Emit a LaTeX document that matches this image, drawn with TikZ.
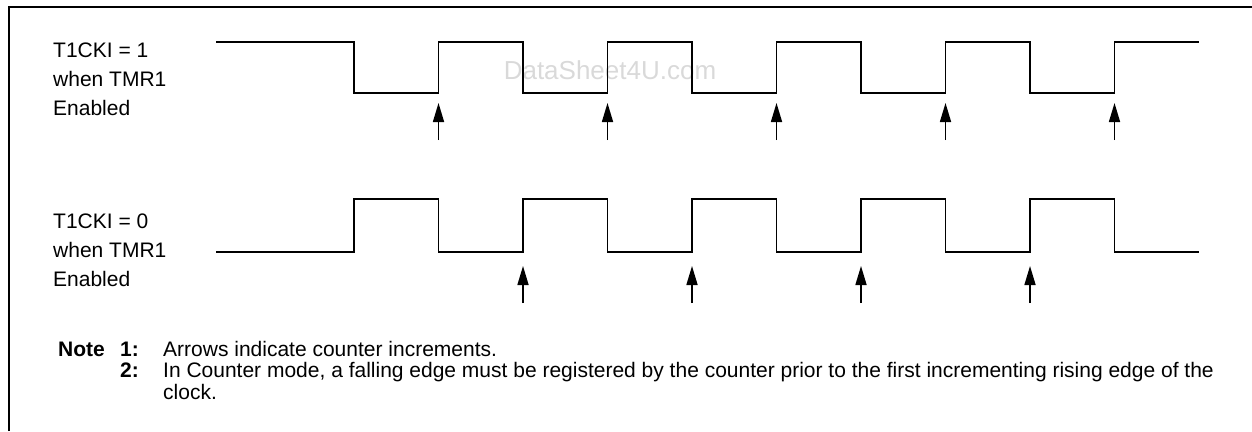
\documentclass[tikz,border=0pt]{standalone}
\usepackage{fontspec}
\setmainfont{Liberation Sans}
\usetikzlibrary{arrows.meta}

\begin{document}
\begin{tikzpicture}[x=1pt, y=-1pt,
    wave/.style={line width=1.6pt, line join=miter},
    cnt/.style={line width=1.6pt, -{Triangle[length=19pt, width=11pt]}},
    lbl/.style={anchor=west, align=left, inner sep=0pt, font=\fontsize{21}{28.8}\selectfont},
    nt/.style={anchor=base west, inner sep=0pt, font=\fontsize{21}{21.5}\selectfont},
    ntb/.style={nt, font=\fontsize{21}{21.5}\selectfont\bfseries}]
  \useasboundingbox (0,0) rectangle (1252,431);
  % frame
  \draw[line width=1.6pt] (9,431) -- (9,7) -- (1252,7);
  % watermark
  \node[text=gray!30, font=\fontsize{26}{26}\selectfont] (wm) at (610,70) {DataSheet4U.com};
  % signal labels
  \node[lbl] (lone) at (53,79) {T1CKI = 1\\when TMR1\\Enabled};
  \node[lbl] (lzero) at (53,250) {T1CKI = 0\\when TMR1\\Enabled};
  % waveforms
  \draw[wave] (216,42) -- (354,42) foreach \k in {0,...,4}{ -- ++(0,51) -- ++(84.5,0) -- ++(0,-51) -- ++(84.5,0) };
  \draw[wave] (216,252) -- (354,252) foreach \k in {0,...,4}{ -- ++(0,-53) -- ++(84.5,0) -- ++(0,53) -- ++(84.5,0) };
  % increment arrows
  \foreach \k in {1,3,...,9}{
    \coordinate (uone\k) at ({354+84.5*\k},103);
    \draw[cnt] (uone\k) ++(0,37) -- (uone\k);
  }
  \foreach \k in {2,4,...,8}{
    \coordinate (uzero\k) at ({354+84.5*\k},266);
    \draw[cnt] (uzero\k) ++(0,37) -- (uzero\k);
  }
  % notes
  \node[ntb] (note) at (58,356) {Note};
  \node[ntb] (none) at (120,356) {1:};
  \node[nt] (tone) at (163,356) {Arrows indicate counter increments.};
  \node[ntb] (ntwo) at (120,377.5) {2:};
  \node[nt, align=left] (ttwo) at (163,399) {In Counter mode, a falling edge must be registered by the counter prior to the first incrementing rising edge of the\\clock.};
\end{tikzpicture}
\end{document}
